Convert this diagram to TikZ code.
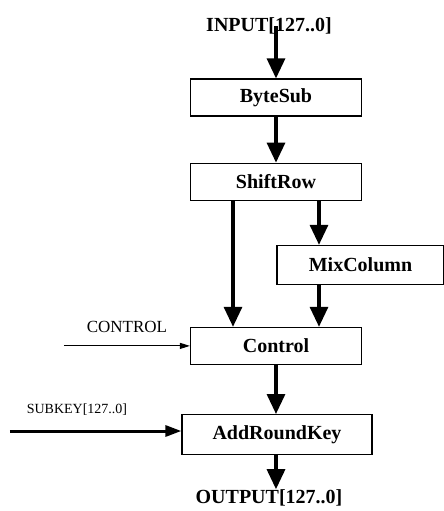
\documentclass[tikz,border=0pt]{standalone}
\usepackage{fontspec}
\setmainfont{Liberation Serif}
\usetikzlibrary{positioning,arrows.meta,calc}
\tikzset{
  blk/.style={draw=black,line width=0.6pt,fill=white,align=center,
    font=\bfseries\fontsize{10}{11}\selectfont,minimum width=85.5pt,
    minimum height=18.5pt,inner sep=1pt},
  lbl/.style={font=\bfseries\fontsize{10}{11}\selectfont,inner sep=0pt},
  sig/.style={font=\fontsize{8.5}{9}\selectfont,inner sep=0pt},
  fl/.style={-{Triangle[length=10pt,width=9pt]},line width=1.6pt},
  cl/.style={-{Triangle[length=5pt,width=3pt]},line width=0.5pt},
  kl/.style={-{Triangle[length=8pt,width=5.5pt]},line width=1.5pt},
}
\begin{document}
\begin{tikzpicture}[x=0.5pt,y=-0.5pt]
\useasboundingbox (0,0) rectangle (444,511);
\node[blk] (bs) at (276,97.5) {ByteSub};
\node[lbl,above=22pt of bs,xshift=-3.5pt] (in) {INPUT[127..0]};
\node[blk,below=23pt of bs] (sr) {ShiftRow};
\node[blk,minimum width=83.5pt,minimum height=19.5pt,below=22pt of sr.south,xshift=42.25pt] (mc) {MixColumn};
\node[blk,below=63pt of sr] (ct) {Control};
\node[blk,minimum width=95pt,minimum height=20pt,below=24.5pt of ct,xshift=0.5pt] (ak) {AddRoundKey};
\node[lbl,below=17pt of ak,xshift=-4pt] (out) {OUTPUT[127..0]};
\node[sig] (ctl) at (127,327) {CONTROL};
\node[sig,font=\fontsize{7}{8}\selectfont] (sk) at (77,410) {SUBKEY[127..0]};
\coordinate (cin) at (64,344);
\coordinate (kin) at (10,431);
\draw[fl] ([yshift=4pt]in.south -| bs.north) -- (bs);
\draw[fl] (bs) -- (sr);
\draw[fl] ([xshift=-21.5pt]sr.south) -- ([xshift=-21.5pt]ct.north);
\draw[fl] ([xshift=21.5pt]sr.south) -- ([xshift=21.5pt]sr.south |- mc.north);
\draw[fl] ([xshift=21.5pt]sr.south |- mc.south) -- ([xshift=21.5pt]ct.north);
\draw[cl] (cin |- ct.west) -- (ct.west);
\draw[fl] (ct.south) -- (ct.south |- ak.north);
\draw[kl] (kin) -- (kin -| ak.west);
\draw[fl] (ct.south |- ak.south) -- (ct.south |- out.north);
\end{tikzpicture}
\end{document}
